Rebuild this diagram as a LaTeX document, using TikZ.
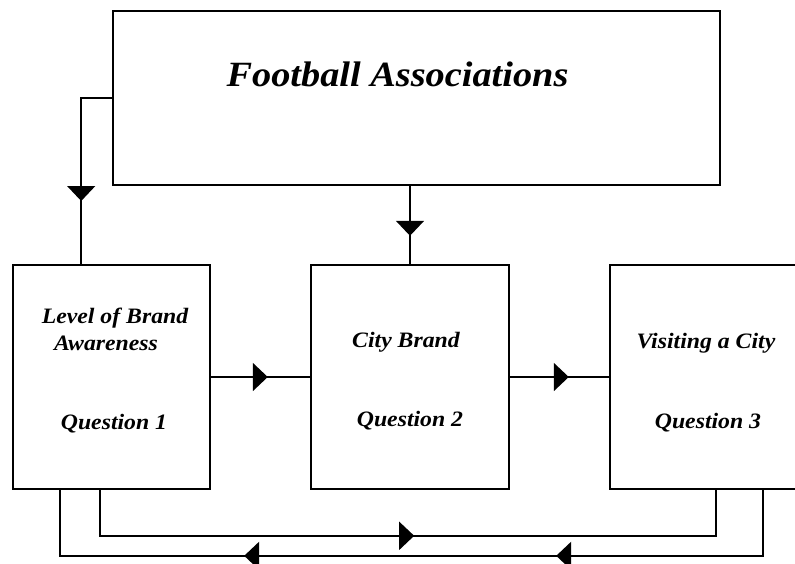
\documentclass[tikz,border=0pt]{standalone}
\usepackage{fontspec}
\setmainfont{Liberation Serif}[FakeStretch=1.08]
\usetikzlibrary{arrows.meta,decorations.markings,calc}
\tikzset{
  box/.style={draw,line width=1.6pt,minimum width=#1,inner sep=0pt},
  lbl/.style={anchor=base,inner sep=0pt,font=\fontsize{22}{24}\selectfont\bfseries\itshape},
  conn/.style={line width=1.6pt},
  midarrow/.style={postaction={decorate,decoration={markings,
     mark=at position #1 with {\arrow{Triangle[width=28pt,length=15pt]}}}}},
  midarrows/.style 2 args={postaction={decorate,decoration={markings,
     mark=at position #1 with {\arrow{Triangle[width=28pt,length=15pt]}},
     mark=at position #2 with {\arrow{Triangle[width=28pt,length=15pt]}}}}}
}
\begin{document}
\begin{tikzpicture}[x=1pt,y=-1pt]
\useasboundingbox (0,0) rectangle (795,563);
\clip (0,0) rectangle (795,563);
% boxes
\node[box=607pt,minimum height=174pt] (fa) at (416.5,98) {};
\node[box=197pt,minimum height=224pt] (L) at (111.5,377) {};
\node[box=198pt,minimum height=224pt] (M) at (410,377) {};
\node[box=200pt,minimum height=224pt] (R) at (710,377) {};
% texts
\node[lbl,font=\fontsize{35.5}{37}\selectfont\bfseries\itshape] (t0) at (397.5,86) {Football Associations};
\node[lbl] (t1a) at (115,323) {Level of Brand};
\node[lbl] (t1b) at (106,350) {Awareness};
\node[lbl] (t1c) at (114,429) {Question 1};
\node[lbl] (t2a) at (406,347) {City Brand};
\node[lbl] (t2b) at (410,426) {Question 2};
\node[lbl] (t3a) at (706,348) {Visiting a City};
\node[lbl] (t3b) at (708,428) {Question 3};
% connectors
\coordinate (c1) at ($(L.north west)+(69,0)$);
\draw[conn,midarrow=134pt] (fa.west) -| (c1);
\draw[conn,midarrow=50pt] (M.north |- fa.south) -- (M.north);
\draw[conn,midarrow=57pt] (L.east) -- (M.west);
\draw[conn,midarrow=59pt] (M.east) -- (R.west);
\coordinate (b1) at ($(L.south west)+(88,0)$);
\coordinate (b2) at ($(R.south west)+(107,0)$);
\draw[conn,midarrow=360pt] (b1) -- ++(0,46) -| (b2);
\coordinate (b3) at ($(R.south west)+(154,0)$);
\coordinate (b4) at ($(L.south west)+(48,0)$);
\draw[conn,midarrows={273pt}{585pt}] (b3) -- ++(0,66) -| (b4);
\end{tikzpicture}
\end{document}
